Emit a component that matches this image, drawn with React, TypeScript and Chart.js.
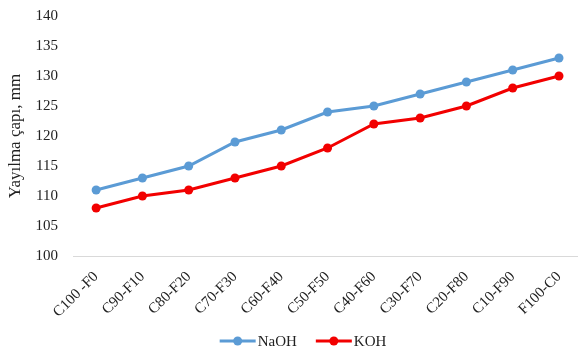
import React, { useEffect, useRef } from "react";
import { Chart, registerables } from "chart.js";

Chart.register(...registerables);

const categories = [
  "C100 -F0",
  "C90-F10",
  "C80-F20",
  "C70-F30",
  "C60-F40",
  "C50-F50",
  "C40-F60",
  "C30-F70",
  "C20-F80",
  "C10-F90",
  "F100-C0",
];
const naohValues = [111, 113, 115, 119, 121, 124, 125, 127, 129, 131, 133];
const kohValues = [108, 110, 111, 113, 115, 118, 122, 123, 125, 128, 130];
const yTitle = "Yayılma çapı, mm";

const FONT = "'Liberation Serif', 'Times New Roman', serif";
const LEGEND_FONT = `15px ${FONT}`;

// Legend drawn under the axis labels: a line sample with a round marker, then the name
const lineLegend = {
  id: "lineLegend",
  afterDraw(chart: any) {
    const ctx = chart.ctx;
    const datasets = chart.data.datasets;
    const lineLen = 36;
    const textGap = 2;
    const itemGap = 19;
    ctx.save();
    ctx.font = LEGEND_FONT;
    const widths = datasets.map((ds: any) => lineLen + textGap + ctx.measureText(ds.label).width);
    const total = widths.reduce((a: number, b: number) => a + b, 0) + itemGap * (datasets.length - 1);
    const cy = 341;
    let x = 303 - total / 2;
    datasets.forEach((ds: any, i: number) => {
      ctx.strokeStyle = ds.borderColor;
      ctx.fillStyle = ds.borderColor;
      ctx.lineWidth = 3;
      ctx.beginPath();
      ctx.moveTo(x, cy);
      ctx.lineTo(x + lineLen, cy);
      ctx.stroke();
      ctx.beginPath();
      ctx.arc(x + lineLen / 2, cy, 4.5, 0, Math.PI * 2);
      ctx.fill();
      ctx.fillStyle = "#222";
      ctx.textAlign = "left";
      ctx.textBaseline = "middle";
      ctx.fillText(ds.label, x + lineLen + textGap, cy + 1);
      x += widths[i] + itemGap;
    });
    ctx.restore();
  },
};

const toPoints = (values: number[]) => values.map((y, i) => ({ x: i, y }));

export default function App() {
  const ref = useRef<HTMLCanvasElement>(null);

  useEffect(() => {
    document.body.style.margin = "0";
    const chart = new Chart(ref.current!, {
      type: "line",
      data: {
        datasets: [
          {
            label: "NaOH",
            data: toPoints(naohValues),
            borderColor: "#5B9BD5",
            backgroundColor: "#5B9BD5",
            borderWidth: 3,
            pointRadius: 4.5,
            pointBorderWidth: 0,
            tension: 0,
          },
          {
            label: "KOH",
            data: toPoints(kohValues),
            borderColor: "#F20000",
            backgroundColor: "#F20000",
            borderWidth: 3,
            pointRadius: 4.5,
            pointBorderWidth: 0,
            tension: 0,
          },
        ],
      },
      options: {
        animation: false,
        responsive: false,
        layout: { padding: { top: 16, right: 0, left: 0, bottom: 37 } },
        plugins: {
          tooltip: { enabled: false },
          legend: { display: false },
        },
        scales: {
          x: {
            type: "linear",
            min: -0.5,
            max: 10.4,
            grid: { display: false, drawTicks: false },
            border: { color: "#D9D9D9", width: 1 },
            ticks: {
              stepSize: 1,
              includeBounds: false,
              color: "#222",
              font: { family: FONT, size: 15 },
              minRotation: 45,
              maxRotation: 45,
              padding: 12,
              autoSkip: false,
              callback: (v: any) => categories[v as number] ?? "",
            },
            afterFit(scale: any) {
              scale.height = 61;
              scale.paddingLeft = 0;
              scale.paddingRight = 0;
            },
          },
          y: {
            min: 100,
            max: 140,
            grid: { display: false, drawTicks: false },
            border: { display: false },
            ticks: {
              stepSize: 5,
              color: "#222",
              font: { family: FONT, size: 15 },
              padding: 15,
            },
            title: {
              display: true,
              text: yTitle,
              color: "#222",
              font: { family: FONT, size: 17 },
              padding: { top: 5, bottom: 0 },
            },
            afterFit(scale: any) {
              scale.width = 73;
              scale.paddingTop = 0;
              scale.paddingBottom = 0;
            },
          },
        },
      },
      plugins: [lineLegend],
    });
    return () => chart.destroy();
  }, []);

  return (
    <div style={{ width: 582, height: 354, background: "#fff" }}>
      <canvas ref={ref} width={582} height={354} />
    </div>
  );
}
